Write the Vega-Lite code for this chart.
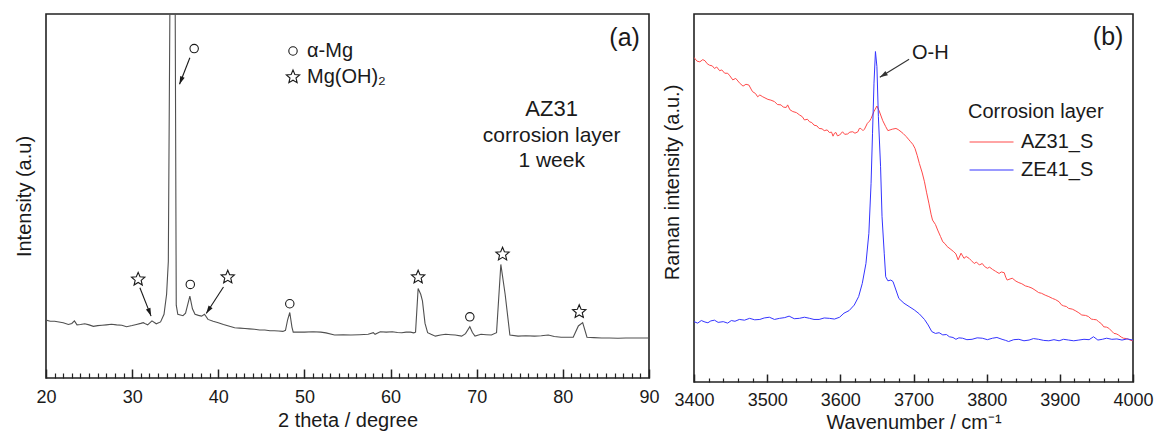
{
  "$schema": "https://vega.github.io/schema/vega-lite/v6.json",
  "padding": {"left": 13, "top": 13, "right": 5, "bottom": 0},
  "spacing": 45,
  "bounds": "flush",
  "config": {
    "font": "Liberation Sans",
    "view": {"stroke": "#222222", "strokeWidth": 1.6},
    "axis": {"grid": false, "domain": false, "labelFontSize": 18, "titleFontSize": 20, "labelColor": "#1a1a1a", "titleColor": "#1a1a1a", "titleFontWeight": "normal", "tickColor": "#222222", "labelFont": "Liberation Sans", "titleFont": "Liberation Sans"},
    "legend": {"labelFont": "Liberation Sans", "titleFont": "Liberation Sans"}
  },
  "resolve": {"scale": {"color": "independent", "shape": "independent"}, "legend": {"color": "independent", "shape": "independent"}},
  "datasets": {
    "xrd": [
      {"t":20.0,"i":15.9},{"t":20.5,"i":15.6},{"t":21.0,"i":15.6},{"t":21.5,"i":15.4},{"t":22.0,"i":15.2},{"t":22.6,"i":14.7},{"t":23.0,"i":15.0},{"t":23.3,"i":15.7},{"t":23.6,"i":14.6},{"t":24.0,"i":14.7},{"t":24.5,"i":14.9},{"t":25.0,"i":14.6},{"t":25.5,"i":14.2},{"t":26.0,"i":14.4},{"t":26.5,"i":14.5},{"t":27.0,"i":14.6},{"t":27.6,"i":14.75},{"t":28.2,"i":14.6},{"t":28.8,"i":14.5},{"t":29.35,"i":14.1},{"t":30.0,"i":14.4},{"t":30.5,"i":14.7},{"t":31.0,"i":15.0},{"t":31.3,"i":15.2},{"t":31.6,"i":14.8},{"t":31.8,"i":14.6},{"t":32.3,"i":15.7},{"t":32.8,"i":14.9},{"t":33.3,"i":15.4},{"t":33.7,"i":17.5},{"t":34.0,"i":23.0},{"t":34.2,"i":32.0},{"t":34.38,"i":100.5},{"t":34.67,"i":250},{"t":35.0,"i":100.5},{"t":35.12,"i":20.0},{"t":35.3,"i":17.5},{"t":35.6,"i":17.3},{"t":35.9,"i":17.1},{"t":36.2,"i":17.8},{"t":36.7,"i":22.5},{"t":37.0,"i":19.0},{"t":37.3,"i":17.5},{"t":37.7,"i":17.2},{"t":38.06,"i":17.0},{"t":38.4,"i":17.5},{"t":38.8,"i":16.1},{"t":39.4,"i":15.6},{"t":40.0,"i":15.2},{"t":40.6,"i":14.7},{"t":41.2,"i":14.3},{"t":41.9,"i":13.8},{"t":42.5,"i":13.7},{"t":43.1,"i":13.6},{"t":43.6,"i":13.5},{"t":44.2,"i":13.4},{"t":44.8,"i":13.2},{"t":45.4,"i":13.2},{"t":46.0,"i":13.0},{"t":46.5,"i":13.0},{"t":47.0,"i":12.9},{"t":47.5,"i":12.8},{"t":47.8,"i":13.1},{"t":48.05,"i":16.0},{"t":48.3,"i":18.0},{"t":48.55,"i":14.0},{"t":48.7,"i":12.6},{"t":49.3,"i":12.6},{"t":50.0,"i":12.6},{"t":51.0,"i":12.7},{"t":51.9,"i":12.6},{"t":52.5,"i":12.4},{"t":53.5,"i":11.8},{"t":54.5,"i":11.9},{"t":55.4,"i":11.8},{"t":56.4,"i":11.9},{"t":57.4,"i":12.0},{"t":58.0,"i":12.45},{"t":58.2,"i":12.0},{"t":58.8,"i":12.7},{"t":59.5,"i":12.6},{"t":60.2,"i":12.7},{"t":60.8,"i":12.5},{"t":61.3,"i":12.45},{"t":61.8,"i":12.6},{"t":62.3,"i":12.6},{"t":62.7,"i":12.4},{"t":62.9,"i":12.6},{"t":63.2,"i":24.6},{"t":63.5,"i":23.0},{"t":63.7,"i":21.2},{"t":64.0,"i":15.0},{"t":64.3,"i":12.45},{"t":64.7,"i":12.0},{"t":65.2,"i":11.5},{"t":65.8,"i":11.8},{"t":66.4,"i":12.0},{"t":67.0,"i":11.9},{"t":67.5,"i":11.8},{"t":68.25,"i":11.5},{"t":68.7,"i":12.2},{"t":69.2,"i":14.1},{"t":69.5,"i":12.5},{"t":69.8,"i":11.5},{"t":70.5,"i":12.0},{"t":71.1,"i":11.9},{"t":71.7,"i":11.8},{"t":72.3,"i":12.45},{"t":72.8,"i":31.2},{"t":73.3,"i":23.0},{"t":73.85,"i":11.8},{"t":74.8,"i":11.5},{"t":75.7,"i":11.6},{"t":76.7,"i":11.5},{"t":77.5,"i":11.6},{"t":78.3,"i":11.8},{"t":79.0,"i":11.4},{"t":79.8,"i":11.2},{"t":80.5,"i":11.2},{"t":81.2,"i":11.2},{"t":81.8,"i":14.3},{"t":82.3,"i":15.2},{"t":82.8,"i":11.2},{"t":83.6,"i":11.1},{"t":84.5,"i":11.0},{"t":85.4,"i":11.0},{"t":86.4,"i":10.9},{"t":87.3,"i":11.0},{"t":88.3,"i":11.0},{"t":89.1,"i":11.0},{"t":90.0,"i":11.0}
    ],
    "xrdmarks": [
      {"t":30.7,"i":27.1,"phase":"Mg(OH)₂"},
      {"t":37.2,"i":90.5,"phase":"α-Mg"},
      {"t":36.75,"i":25.7,"phase":"α-Mg"},
      {"t":41.1,"i":27.7,"phase":"Mg(OH)₂"},
      {"t":48.3,"i":20.4,"phase":"α-Mg"},
      {"t":63.2,"i":27.7,"phase":"Mg(OH)₂"},
      {"t":69.2,"i":16.8,"phase":"α-Mg"},
      {"t":73.0,"i":34.0,"phase":"Mg(OH)₂"},
      {"t":81.9,"i":18.2,"phase":"Mg(OH)₂"}
    ],
    "xrdarrows": [
      {"id":"a1","t":30.9,"i":24.8,"t2":32.2,"i2":17.0},
      {"id":"a2","t":36.7,"i":88.0,"t2":35.5,"i2":80.7},
      {"id":"a3","t":40.6,"i":25.0,"t2":38.6,"i2":17.7}
    ],
    "raman": [
      {"w":3400,"v":88.2,"s":"AZ31_S"},{"w":3404,"v":87.2,"s":"AZ31_S"},{"w":3408,"v":87.0,"s":"AZ31_S"},{"w":3412,"v":87.6,"s":"AZ31_S"},{"w":3415,"v":87.3,"s":"AZ31_S"},{"w":3418,"v":86.5,"s":"AZ31_S"},{"w":3421,"v":86.1,"s":"AZ31_S"},{"w":3425,"v":85.9,"s":"AZ31_S"},{"w":3428,"v":85.2,"s":"AZ31_S"},{"w":3431,"v":85.6,"s":"AZ31_S"},{"w":3435,"v":84.6,"s":"AZ31_S"},{"w":3438,"v":84.8,"s":"AZ31_S"},{"w":3442,"v":83.9,"s":"AZ31_S"},{"w":3446,"v":83.9,"s":"AZ31_S"},{"w":3449,"v":83.2,"s":"AZ31_S"},{"w":3453,"v":82.1,"s":"AZ31_S"},{"w":3457,"v":82.5,"s":"AZ31_S"},{"w":3460,"v":81.8,"s":"AZ31_S"},{"w":3462,"v":81.3,"s":"AZ31_S"},{"w":3467,"v":80.4,"s":"AZ31_S"},{"w":3471,"v":80.9,"s":"AZ31_S"},{"w":3475,"v":80.7,"s":"AZ31_S"},{"w":3478,"v":79.6,"s":"AZ31_S"},{"w":3480,"v":78.9,"s":"AZ31_S"},{"w":3484,"v":78.4,"s":"AZ31_S"},{"w":3487,"v":77.5,"s":"AZ31_S"},{"w":3490,"v":78.0,"s":"AZ31_S"},{"w":3494,"v":77.5,"s":"AZ31_S"},{"w":3497,"v":77.2,"s":"AZ31_S"},{"w":3501,"v":76.8,"s":"AZ31_S"},{"w":3505,"v":76.6,"s":"AZ31_S"},{"w":3510,"v":76.2,"s":"AZ31_S"},{"w":3514,"v":75.4,"s":"AZ31_S"},{"w":3519,"v":75.3,"s":"AZ31_S"},{"w":3522,"v":74.7,"s":"AZ31_S"},{"w":3526,"v":74.6,"s":"AZ31_S"},{"w":3528,"v":75.3,"s":"AZ31_S"},{"w":3531,"v":74.0,"s":"AZ31_S"},{"w":3535,"v":73.5,"s":"AZ31_S"},{"w":3540,"v":73.2,"s":"AZ31_S"},{"w":3544,"v":72.6,"s":"AZ31_S"},{"w":3548,"v":72.1,"s":"AZ31_S"},{"w":3551,"v":71.2,"s":"AZ31_S"},{"w":3555,"v":71.4,"s":"AZ31_S"},{"w":3558,"v":70.7,"s":"AZ31_S"},{"w":3561,"v":70.5,"s":"AZ31_S"},{"w":3564,"v":69.8,"s":"AZ31_S"},{"w":3568,"v":69.6,"s":"AZ31_S"},{"w":3571,"v":68.9,"s":"AZ31_S"},{"w":3575,"v":68.8,"s":"AZ31_S"},{"w":3578,"v":68.3,"s":"AZ31_S"},{"w":3582,"v":68.5,"s":"AZ31_S"},{"w":3585,"v":67.8,"s":"AZ31_S"},{"w":3588,"v":67.9,"s":"AZ31_S"},{"w":3590,"v":66.8,"s":"AZ31_S"},{"w":3592,"v":67.6,"s":"AZ31_S"},{"w":3594,"v":67.8,"s":"AZ31_S"},{"w":3596,"v":66.9,"s":"AZ31_S"},{"w":3599,"v":67.1,"s":"AZ31_S"},{"w":3603,"v":68.0,"s":"AZ31_S"},{"w":3606,"v":67.3,"s":"AZ31_S"},{"w":3610,"v":67.4,"s":"AZ31_S"},{"w":3613,"v":67.9,"s":"AZ31_S"},{"w":3617,"v":68.0,"s":"AZ31_S"},{"w":3620,"v":67.6,"s":"AZ31_S"},{"w":3624,"v":68.0,"s":"AZ31_S"},{"w":3626,"v":68.9,"s":"AZ31_S"},{"w":3628,"v":68.9,"s":"AZ31_S"},{"w":3631,"v":68.3,"s":"AZ31_S"},{"w":3633,"v":68.7,"s":"AZ31_S"},{"w":3637,"v":70.3,"s":"AZ31_S"},{"w":3640,"v":70.9,"s":"AZ31_S"},{"w":3642,"v":71.6,"s":"AZ31_S"},{"w":3646,"v":73.5,"s":"AZ31_S"},{"w":3650,"v":75.0,"s":"AZ31_S"},{"w":3653,"v":73.7,"s":"AZ31_S"},{"w":3658,"v":71.0,"s":"AZ31_S"},{"w":3662,"v":69.4,"s":"AZ31_S"},{"w":3665,"v":68.3,"s":"AZ31_S"},{"w":3668,"v":68.5,"s":"AZ31_S"},{"w":3671,"v":68.7,"s":"AZ31_S"},{"w":3676,"v":68.9,"s":"AZ31_S"},{"w":3679,"v":68.6,"s":"AZ31_S"},{"w":3683,"v":68.0,"s":"AZ31_S"},{"w":3686,"v":67.5,"s":"AZ31_S"},{"w":3690,"v":66.7,"s":"AZ31_S"},{"w":3693,"v":66.0,"s":"AZ31_S"},{"w":3696,"v":65.3,"s":"AZ31_S"},{"w":3699,"v":64.6,"s":"AZ31_S"},{"w":3702,"v":63.5,"s":"AZ31_S"},{"w":3705,"v":61.6,"s":"AZ31_S"},{"w":3708,"v":59.4,"s":"AZ31_S"},{"w":3712,"v":56.8,"s":"AZ31_S"},{"w":3715,"v":54.4,"s":"AZ31_S"},{"w":3718,"v":51.4,"s":"AZ31_S"},{"w":3721,"v":48.6,"s":"AZ31_S"},{"w":3724,"v":45.6,"s":"AZ31_S"},{"w":3726,"v":44.0,"s":"AZ31_S"},{"w":3730,"v":42.8,"s":"AZ31_S"},{"w":3733,"v":41.3,"s":"AZ31_S"},{"w":3737,"v":39.5,"s":"AZ31_S"},{"w":3740,"v":38.1,"s":"AZ31_S"},{"w":3743,"v":37.6,"s":"AZ31_S"},{"w":3746,"v":36.8,"s":"AZ31_S"},{"w":3750,"v":36.2,"s":"AZ31_S"},{"w":3755,"v":35.4,"s":"AZ31_S"},{"w":3758,"v":34.8,"s":"AZ31_S"},{"w":3761,"v":33.2,"s":"AZ31_S"},{"w":3765,"v":35.0,"s":"AZ31_S"},{"w":3769,"v":33.6,"s":"AZ31_S"},{"w":3772,"v":34.1,"s":"AZ31_S"},{"w":3776,"v":33.6,"s":"AZ31_S"},{"w":3779,"v":33.0,"s":"AZ31_S"},{"w":3783,"v":32.2,"s":"AZ31_S"},{"w":3786,"v":32.6,"s":"AZ31_S"},{"w":3790,"v":31.8,"s":"AZ31_S"},{"w":3794,"v":32.2,"s":"AZ31_S"},{"w":3797,"v":31.4,"s":"AZ31_S"},{"w":3801,"v":30.9,"s":"AZ31_S"},{"w":3804,"v":31.2,"s":"AZ31_S"},{"w":3808,"v":30.6,"s":"AZ31_S"},{"w":3812,"v":30.1,"s":"AZ31_S"},{"w":3817,"v":29.5,"s":"AZ31_S"},{"w":3820,"v":29.9,"s":"AZ31_S"},{"w":3824,"v":29.7,"s":"AZ31_S"},{"w":3826,"v":28.5,"s":"AZ31_S"},{"w":3828,"v":27.7,"s":"AZ31_S"},{"w":3832,"v":28.0,"s":"AZ31_S"},{"w":3835,"v":28.2,"s":"AZ31_S"},{"w":3840,"v":27.4,"s":"AZ31_S"},{"w":3844,"v":27.0,"s":"AZ31_S"},{"w":3848,"v":26.7,"s":"AZ31_S"},{"w":3853,"v":26.1,"s":"AZ31_S"},{"w":3857,"v":25.9,"s":"AZ31_S"},{"w":3862,"v":25.5,"s":"AZ31_S"},{"w":3866,"v":25.0,"s":"AZ31_S"},{"w":3871,"v":24.3,"s":"AZ31_S"},{"w":3875,"v":24.1,"s":"AZ31_S"},{"w":3880,"v":23.6,"s":"AZ31_S"},{"w":3885,"v":23.2,"s":"AZ31_S"},{"w":3890,"v":22.7,"s":"AZ31_S"},{"w":3894,"v":22.4,"s":"AZ31_S"},{"w":3899,"v":21.8,"s":"AZ31_S"},{"w":3902,"v":21.0,"s":"AZ31_S"},{"w":3905,"v":20.7,"s":"AZ31_S"},{"w":3909,"v":20.5,"s":"AZ31_S"},{"w":3912,"v":20.0,"s":"AZ31_S"},{"w":3917,"v":19.8,"s":"AZ31_S"},{"w":3921,"v":19.4,"s":"AZ31_S"},{"w":3926,"v":18.8,"s":"AZ31_S"},{"w":3930,"v":18.2,"s":"AZ31_S"},{"w":3935,"v":18.1,"s":"AZ31_S"},{"w":3939,"v":17.8,"s":"AZ31_S"},{"w":3943,"v":17.1,"s":"AZ31_S"},{"w":3946,"v":17.0,"s":"AZ31_S"},{"w":3950,"v":16.9,"s":"AZ31_S"},{"w":3953,"v":16.4,"s":"AZ31_S"},{"w":3957,"v":15.8,"s":"AZ31_S"},{"w":3960,"v":15.0,"s":"AZ31_S"},{"w":3964,"v":14.9,"s":"AZ31_S"},{"w":3967,"v":14.6,"s":"AZ31_S"},{"w":3971,"v":13.8,"s":"AZ31_S"},{"w":3974,"v":13.2,"s":"AZ31_S"},{"w":3977,"v":13.1,"s":"AZ31_S"},{"w":3980,"v":12.8,"s":"AZ31_S"},{"w":3984,"v":12.2,"s":"AZ31_S"},{"w":3987,"v":11.9,"s":"AZ31_S"},{"w":3991,"v":11.8,"s":"AZ31_S"},{"w":3994,"v":11.6,"s":"AZ31_S"},{"w":3997,"v":11.3,"s":"AZ31_S"},{"w":4000,"v":11.2,"s":"AZ31_S"},
      {"w":3400,"v":16.4,"s":"ZE41_S"},{"w":3405,"v":16.0,"s":"ZE41_S"},{"w":3410,"v":16.7,"s":"ZE41_S"},{"w":3415,"v":16.3,"s":"ZE41_S"},{"w":3419,"v":16.1,"s":"ZE41_S"},{"w":3423,"v":16.6,"s":"ZE41_S"},{"w":3428,"v":16.8,"s":"ZE41_S"},{"w":3433,"v":16.2,"s":"ZE41_S"},{"w":3440,"v":16.4,"s":"ZE41_S"},{"w":3446,"v":16.0,"s":"ZE41_S"},{"w":3451,"v":16.7,"s":"ZE41_S"},{"w":3456,"v":16.5,"s":"ZE41_S"},{"w":3462,"v":17.0,"s":"ZE41_S"},{"w":3469,"v":16.8,"s":"ZE41_S"},{"w":3476,"v":17.3,"s":"ZE41_S"},{"w":3483,"v":16.9,"s":"ZE41_S"},{"w":3490,"v":17.0,"s":"ZE41_S"},{"w":3496,"v":17.4,"s":"ZE41_S"},{"w":3503,"v":17.6,"s":"ZE41_S"},{"w":3510,"v":17.0,"s":"ZE41_S"},{"w":3517,"v":17.3,"s":"ZE41_S"},{"w":3524,"v":17.5,"s":"ZE41_S"},{"w":3530,"v":17.9,"s":"ZE41_S"},{"w":3537,"v":17.2,"s":"ZE41_S"},{"w":3544,"v":17.3,"s":"ZE41_S"},{"w":3551,"v":17.6,"s":"ZE41_S"},{"w":3558,"v":17.3,"s":"ZE41_S"},{"w":3564,"v":17.0,"s":"ZE41_S"},{"w":3571,"v":17.0,"s":"ZE41_S"},{"w":3578,"v":17.4,"s":"ZE41_S"},{"w":3585,"v":17.3,"s":"ZE41_S"},{"w":3592,"v":17.1,"s":"ZE41_S"},{"w":3599,"v":17.6,"s":"ZE41_S"},{"w":3605,"v":18.7,"s":"ZE41_S"},{"w":3612,"v":19.4,"s":"ZE41_S"},{"w":3619,"v":20.9,"s":"ZE41_S"},{"w":3625,"v":23.2,"s":"ZE41_S"},{"w":3630,"v":26.8,"s":"ZE41_S"},{"w":3635,"v":32.2,"s":"ZE41_S"},{"w":3639,"v":40.4,"s":"ZE41_S"},{"w":3642,"v":54.0,"s":"ZE41_S"},{"w":3644,"v":67.6,"s":"ZE41_S"},{"w":3646,"v":81.2,"s":"ZE41_S"},{"w":3648,"v":89.8,"s":"ZE41_S"},{"w":3650,"v":85.7,"s":"ZE41_S"},{"w":3652,"v":72.1,"s":"ZE41_S"},{"w":3655,"v":58.5,"s":"ZE41_S"},{"w":3657,"v":44.9,"s":"ZE41_S"},{"w":3660,"v":35.0,"s":"ZE41_S"},{"w":3662,"v":28.6,"s":"ZE41_S"},{"w":3665,"v":27.5,"s":"ZE41_S"},{"w":3669,"v":27.7,"s":"ZE41_S"},{"w":3672,"v":27.3,"s":"ZE41_S"},{"w":3676,"v":25.0,"s":"ZE41_S"},{"w":3680,"v":22.7,"s":"ZE41_S"},{"w":3687,"v":21.4,"s":"ZE41_S"},{"w":3694,"v":20.5,"s":"ZE41_S"},{"w":3701,"v":19.6,"s":"ZE41_S"},{"w":3708,"v":18.5,"s":"ZE41_S"},{"w":3715,"v":17.0,"s":"ZE41_S"},{"w":3720,"v":15.5,"s":"ZE41_S"},{"w":3725,"v":13.7,"s":"ZE41_S"},{"w":3730,"v":13.2,"s":"ZE41_S"},{"w":3735,"v":13.4,"s":"ZE41_S"},{"w":3740,"v":12.8,"s":"ZE41_S"},{"w":3745,"v":12.9,"s":"ZE41_S"},{"w":3749,"v":12.3,"s":"ZE41_S"},{"w":3754,"v":12.1,"s":"ZE41_S"},{"w":3758,"v":11.6,"s":"ZE41_S"},{"w":3762,"v":12.0,"s":"ZE41_S"},{"w":3767,"v":11.9,"s":"ZE41_S"},{"w":3773,"v":11.5,"s":"ZE41_S"},{"w":3780,"v":11.6,"s":"ZE41_S"},{"w":3787,"v":12.0,"s":"ZE41_S"},{"w":3794,"v":11.9,"s":"ZE41_S"},{"w":3801,"v":11.5,"s":"ZE41_S"},{"w":3808,"v":11.9,"s":"ZE41_S"},{"w":3814,"v":12.1,"s":"ZE41_S"},{"w":3821,"v":11.6,"s":"ZE41_S"},{"w":3826,"v":11.3,"s":"ZE41_S"},{"w":3830,"v":11.0,"s":"ZE41_S"},{"w":3837,"v":11.5,"s":"ZE41_S"},{"w":3844,"v":11.6,"s":"ZE41_S"},{"w":3851,"v":11.2,"s":"ZE41_S"},{"w":3858,"v":11.4,"s":"ZE41_S"},{"w":3864,"v":11.8,"s":"ZE41_S"},{"w":3871,"v":11.6,"s":"ZE41_S"},{"w":3878,"v":11.3,"s":"ZE41_S"},{"w":3885,"v":11.2,"s":"ZE41_S"},{"w":3892,"v":11.5,"s":"ZE41_S"},{"w":3899,"v":11.2,"s":"ZE41_S"},{"w":3905,"v":11.6,"s":"ZE41_S"},{"w":3912,"v":11.4,"s":"ZE41_S"},{"w":3919,"v":11.2,"s":"ZE41_S"},{"w":3926,"v":11.4,"s":"ZE41_S"},{"w":3933,"v":11.6,"s":"ZE41_S"},{"w":3940,"v":11.5,"s":"ZE41_S"},{"w":3946,"v":12.3,"s":"ZE41_S"},{"w":3952,"v":11.4,"s":"ZE41_S"},{"w":3958,"v":11.6,"s":"ZE41_S"},{"w":3964,"v":11.9,"s":"ZE41_S"},{"w":3971,"v":11.6,"s":"ZE41_S"},{"w":3978,"v":11.7,"s":"ZE41_S"},{"w":3985,"v":11.4,"s":"ZE41_S"},{"w":3992,"v":11.7,"s":"ZE41_S"},{"w":4000,"v":11.4,"s":"ZE41_S"}
    ]
  },
  "hconcat": [
    {
      "width": 603,
      "height": 364,
      "resolve": {"axis": {"x": "independent", "y": "independent"}},
      "layer": [
        {
          "data": {"name": "xrd"},
          "mark": {"type": "line", "color": "#505050", "strokeWidth": 1.1, "clip": true},
          "encoding": {
            "x": {"field": "t", "type": "quantitative", "scale": {"domain": [20, 90], "nice": false, "zero": false},
              "axis": {"orient": "bottom", "values": [20, 30, 40, 50, 60, 70, 80, 90], "tickSize": -9, "tickWidth": 1.5, "labelPadding": 19, "labelFlush": false, "format": "d", "title": "2 theta / degree", "titlePadding": 4}},
            "y": {"field": "i", "type": "quantitative", "scale": {"domain": [0, 100], "nice": false, "zero": false},
              "axis": {"labels": false, "ticks": false, "title": "Intensity (a.u)", "titlePadding": 12}}
          }
        },
        {
          "data": {"name": "xrdmarks"},
          "mark": {"type": "point", "filled": false, "color": "#1a1a1a", "strokeWidth": 1.1, "size": 71, "opacity": 1},
          "encoding": {
            "x": {"field": "t", "type": "quantitative",
              "axis": {"orient": "bottom", "values": [21,22,23,24,25,26,27,28,29,31,32,33,34,35,36,37,38,39,41,42,43,44,45,46,47,48,49,51,52,53,54,55,56,57,58,59,61,62,63,64,65,66,67,68,69,71,72,73,74,75,76,77,78,79,81,82,83,84,85,86,87,88,89], "tickSize": -5, "tickWidth": 1.2, "labels": false, "title": null}},
            "y": {"field": "i", "type": "quantitative", "axis": null},
            "shape": {"field": "phase", "type": "nominal",
              "scale": {"domain": ["α-Mg", "Mg(OH)₂"], "range": ["circle", "M0,-1.66L0.441,-0.607L1.579,-0.513L0.713,0.232L0.976,1.343L0,0.75L-0.976,1.343L-0.713,0.232L-1.579,-0.513L-0.441,-0.607Z"]},
              "legend": {"orient": "none", "legendX": 237, "legendY": 27, "title": null, "labelFontSize": 20, "labelColor": "#1a1a1a", "labelOffset": 4, "rowPadding": 6, "symbolStrokeColor": "#1a1a1a", "symbolStrokeWidth": 1.1, "symbolSize": 71, "symbolFillColor": "transparent"}}
          }
        },
        {
          "data": {"name": "xrdarrows"},
          "mark": {"type": "rule", "color": "#1a1a1a", "strokeWidth": 1.1},
          "encoding": {
            "x": {"field": "t", "type": "quantitative", "axis": null},
            "y": {"field": "i", "type": "quantitative", "axis": null},
            "x2": {"field": "t2"},
            "y2": {"field": "i2"}
          }
        },
        {
          "data": {"name": "xrdarrows"},
          "transform": [{"filter": "datum.id === 'a1'"}],
          "mark": {"type": "point", "filled": true, "color": "#1a1a1a", "opacity": 1, "size": 64, "shape": "M0,0L-0.6,2L0.6,2Z", "angle": 158.5},
          "encoding": {
            "x": {"field": "t2", "type": "quantitative", "axis": null},
            "y": {"field": "i2", "type": "quantitative", "axis": null}
          }
        },
        {
          "data": {"name": "xrdarrows"},
          "transform": [{"filter": "datum.id === 'a2'"}],
          "mark": {"type": "point", "filled": true, "color": "#1a1a1a", "opacity": 1, "size": 64, "shape": "M0,0L-0.6,2L0.6,2Z", "angle": 201.2},
          "encoding": {
            "x": {"field": "t2", "type": "quantitative", "axis": null},
            "y": {"field": "i2", "type": "quantitative", "axis": null}
          }
        },
        {
          "data": {"name": "xrdarrows"},
          "transform": [{"filter": "datum.id === 'a3'"}],
          "mark": {"type": "point", "filled": true, "color": "#1a1a1a", "opacity": 1, "size": 64, "shape": "M0,0L-0.6,2L0.6,2Z", "angle": 212.9},
          "encoding": {
            "x": {"field": "t2", "type": "quantitative", "axis": null},
            "y": {"field": "i2", "type": "quantitative", "axis": null}
          }
        },
        {
          "data": {"values": [{"t": 78.7, "i": 73.9, "label": "AZ31"}]},
          "mark": {"type": "text", "fontSize": 22, "color": "#1a1a1a", "align": "center", "baseline": "middle"},
          "encoding": {
            "x": {"field": "t", "type": "quantitative", "axis": null},
            "y": {"field": "i", "type": "quantitative", "axis": null},
            "text": {"field": "label"}
          }
        },
        {
          "data": {"values": [{"t": 78.7, "i": 66.5, "label": "corrosion layer"}, {"t": 78.7, "i": 59.6, "label": "1 week"}]},
          "mark": {"type": "text", "fontSize": 21, "color": "#1a1a1a", "align": "center", "baseline": "middle"},
          "encoding": {
            "x": {"field": "t", "type": "quantitative", "axis": null},
            "y": {"field": "i", "type": "quantitative", "axis": null},
            "text": {"field": "label"}
          }
        },
        {
          "data": {"values": [{"t": 87.17, "i": 93.5, "label": "(a)"}]},
          "mark": {"type": "text", "fontSize": 25, "color": "#1a1a1a", "align": "center", "baseline": "middle"},
          "encoding": {
            "x": {"field": "t", "type": "quantitative", "axis": null},
            "y": {"field": "i", "type": "quantitative", "axis": null},
            "text": {"field": "label"}
          }
        }
      ]
    },
    {
      "width": 439,
      "height": 368,
      "resolve": {"axis": {"x": "independent", "y": "independent"}},
      "layer": [
        {
          "data": {"name": "raman"},
          "mark": {"type": "line", "strokeWidth": 1, "clip": true},
          "encoding": {
            "x": {"field": "w", "type": "quantitative", "scale": {"domain": [3400, 4000], "nice": false, "zero": false},
              "axis": {"orient": "bottom", "values": [3400, 3500, 3600, 3700, 3800, 3900, 4000], "tickSize": -8, "tickWidth": 1.5, "labelPadding": 17, "labelFlush": false, "format": "d", "title": "Wavenumber / cm⁻¹", "titlePadding": 3}},
            "y": {"field": "v", "type": "quantitative", "scale": {"domain": [0, 100], "nice": false, "zero": false},
              "axis": {"labels": false, "ticks": false, "title": "Raman intensity (a.u.)", "titlePadding": 12, "titleY": 168}},
            "color": {"field": "s", "type": "nominal",
              "scale": {"domain": ["AZ31_S", "ZE41_S"], "range": ["#ff4a4a", "#3434ff"]},
              "legend": {"orient": "none", "legendX": 274, "legendY": 88, "title": "Corrosion layer", "titleFontSize": 20, "titleFontWeight": "normal", "titleColor": "#1a1a1a", "titlePadding": 10, "labelFontSize": 20, "labelColor": "#1a1a1a", "labelOffset": 33, "rowPadding": 8, "symbolType": "M-1,0L4.2,0", "symbolSize": 286, "symbolStrokeWidth": 1.2}}
          }
        },
        {
          "data": {"values": [{"w": 3723, "v": 89.4, "label": "O-H"}]},
          "mark": {"type": "text", "fontSize": 20, "color": "#1a1a1a", "align": "center", "baseline": "middle"},
          "encoding": {
            "x": {"field": "w", "type": "quantitative",
              "axis": {"orient": "bottom", "values": [3420,3440,3460,3480,3520,3540,3560,3580,3620,3640,3660,3680,3720,3740,3760,3780,3820,3840,3860,3880,3920,3940,3960,3980], "tickSize": -4, "tickWidth": 1.2, "labels": false, "title": null}},
            "y": {"field": "v", "type": "quantitative", "axis": null},
            "text": {"field": "label"}
          }
        },
        {
          "data": {"values": [{"w": 3694, "v": 87.7, "w2": 3654, "v2": 82.8}]},
          "layer": [
            {
              "mark": {"type": "rule", "color": "#333333", "strokeWidth": 1.1},
              "encoding": {
                "x": {"field": "w", "type": "quantitative", "axis": null},
                "y": {"field": "v", "type": "quantitative", "axis": null},
                "x2": {"field": "w2"},
                "y2": {"field": "v2"}
              }
            },
            {
              "mark": {"type": "point", "filled": true, "color": "#333333", "opacity": 1, "size": 64, "shape": "M0,0L-0.6,2L0.6,2Z", "angle": 238.4},
              "encoding": {
                "x": {"field": "w2", "type": "quantitative", "axis": null},
                "y": {"field": "v2", "type": "quantitative", "axis": null}
              }
            }
          ]
        },
        {
          "data": {"values": [{"w": 3966, "v": 93.8, "label": "(b)"}]},
          "mark": {"type": "text", "fontSize": 25, "color": "#1a1a1a", "align": "center", "baseline": "middle"},
          "encoding": {
            "x": {"field": "w", "type": "quantitative", "axis": null},
            "y": {"field": "v", "type": "quantitative", "axis": null},
            "text": {"field": "label"}
          }
        }
      ]
    }
  ]
}
